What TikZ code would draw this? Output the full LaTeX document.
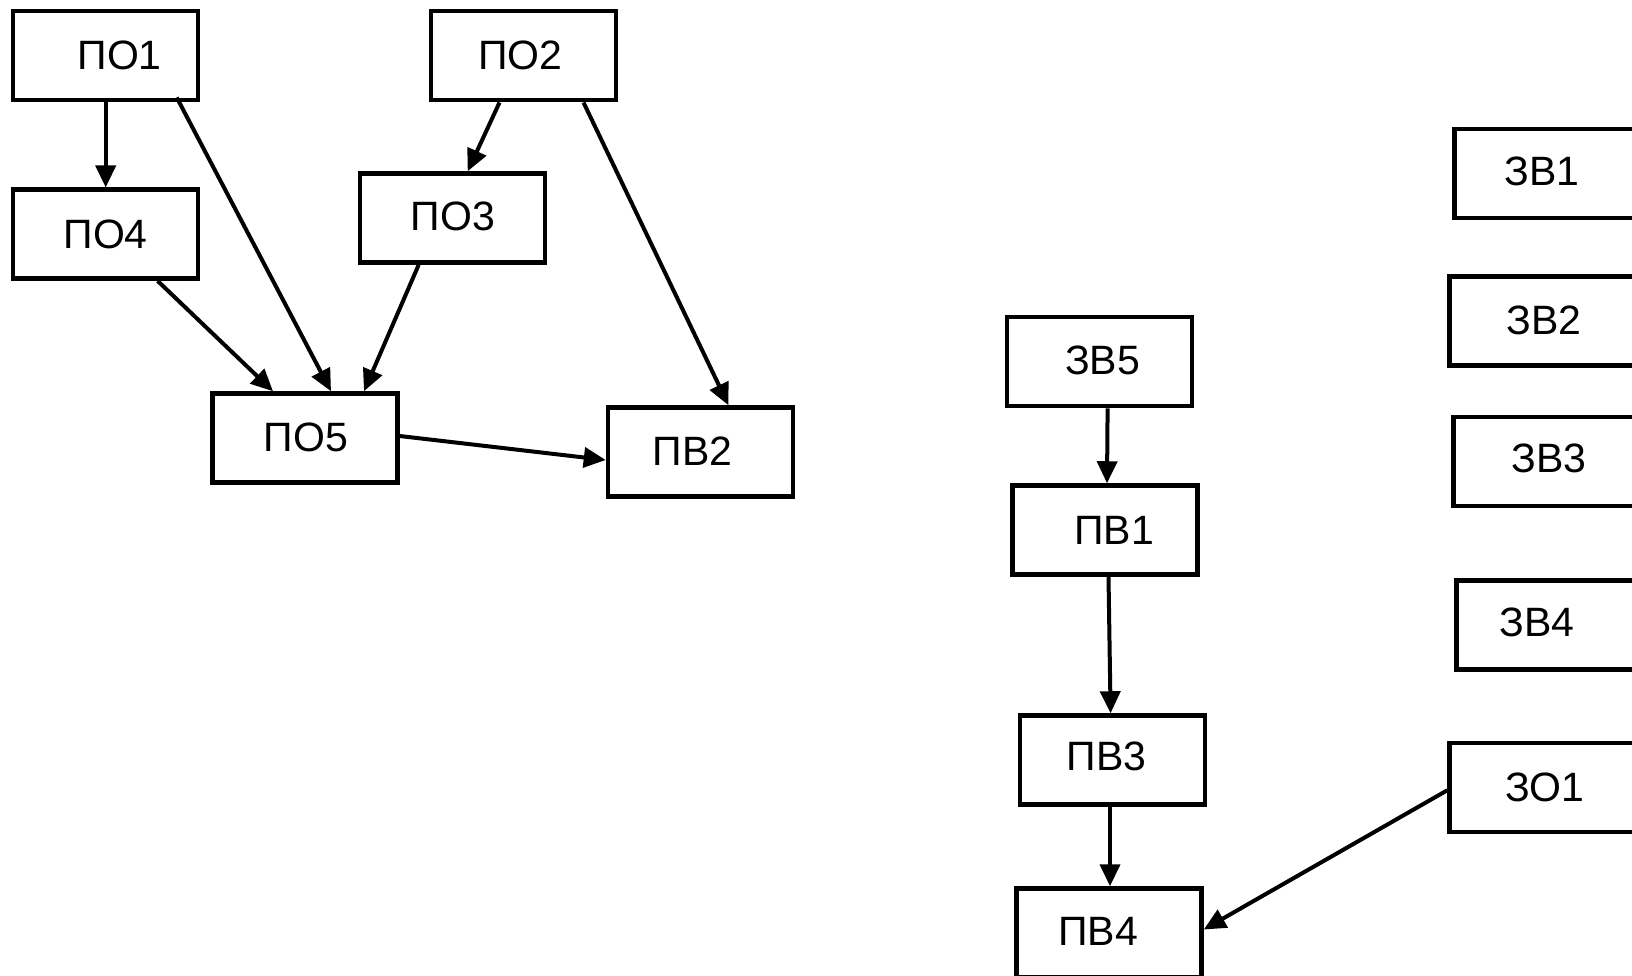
\documentclass[tikz,border=0pt]{standalone}
\usepackage{fontspec}
\setmainfont{Liberation Sans}
\usetikzlibrary{arrows.meta,calc}
\newcommand\tx[3]{\makebox[0pt][c]{\hspace*{#1}\raisebox{#2}{#3}}}
\tikzset{
  blk/.style={draw=black, line width=4.5pt, minimum width=185pt, minimum height=89pt, inner sep=0pt,
    font=\fontsize{41}{46}\selectfont},
  arr/.style={draw=black, line width=4pt, -{Triangle[length=22pt,width=20pt]}},
}
\begin{document}
\begin{tikzpicture}[x=1pt,y=-1pt]
\useasboundingbox (0,0) rectangle (1632,975);
\fill[white] (0,0) rectangle (1632,975);
\clip (0,0) rectangle (1632,975);
\node[blk] (po1) at (105.7,55.7) {\tx{28pt}{-2pt}{ПО1}};
\node[blk] (po2) at (523.5,55.7) {\tx{-6pt}{0pt}{ПО2}};
\node[blk] (po4) at (105.7,234.2) {\tx{0pt}{0pt}{ПО4}};
\node[blk] (po3) at (452.7,218) {\tx{0pt}{4pt}{ПО3}};
\node[blk] (po5) at (305,438) {\tx{2pt}{1pt}{ПО5}};
\node[blk] (pv2) at (700.5,452) {\tx{-16pt}{2pt}{ПВ2}};
\node[blk] (zv5) at (1099.6,361.7) {\tx{6pt}{4pt}{ЗВ5}};
\node[blk] (pv1) at (1105,530) {\tx{18pt}{-1pt}{ПВ1}};
\node[blk] (pv3) at (1112.6,760) {\tx{-12pt}{8pt}{ПВ3}};
\node[blk] (pv4) at (1109,933) {\tx{-22pt}{4pt}{ПВ4}};
\node[blk] (zv1) at (1547,173.3) {\tx{-10pt}{4pt}{ЗВ1}};
\node[blk] (zv2) at (1542,321) {\tx{4pt}{1pt}{ЗВ2}};
\node[blk] (zv3) at (1546,461.6) {\tx{6pt}{6pt}{ЗВ3}};
\node[blk] (zv4) at (1549,625) {\tx{-24pt}{6pt}{ЗВ4}};
\node[blk] (zo1) at (1542,787.3) {\tx{6pt}{1pt}{ЗО1}};
% connectors
\draw[arr] (po1.south) -- (po4.north);
\draw[arr] ([xshift=71pt,yshift=5pt]po1.south) -- ([xshift=26pt]po5.north);
\draw[arr] ([xshift=52pt]po4.south) -- ([xshift=-32pt]po5.north);
\draw[arr] ([xshift=-34pt]po3.south) -- ([xshift=59pt]po5.north);
\draw[arr] ([xshift=-24pt]po2.south) -- ([xshift=15pt]po3.north);
\draw[arr] ([xshift=60pt]po2.south) -- ([xshift=28pt]pv2.north);
\draw[arr] ([yshift=2pt]po5.east) -- ([yshift=-8pt]pv2.west);
\draw[arr] ([xshift=8pt]zv5.south) -- ([xshift=2pt]pv1.north);
\draw[arr] ([xshift=3.5pt]pv1.south) -- ([xshift=-2pt]pv3.north);
\draw[arr] ([xshift=-2.6pt]pv3.south) -- ([xshift=1pt]pv4.north);
\draw[arr] ([yshift=-3pt]zo1.west) -- ([yshift=3.5pt]pv4.east);
\end{tikzpicture}
\end{document}
